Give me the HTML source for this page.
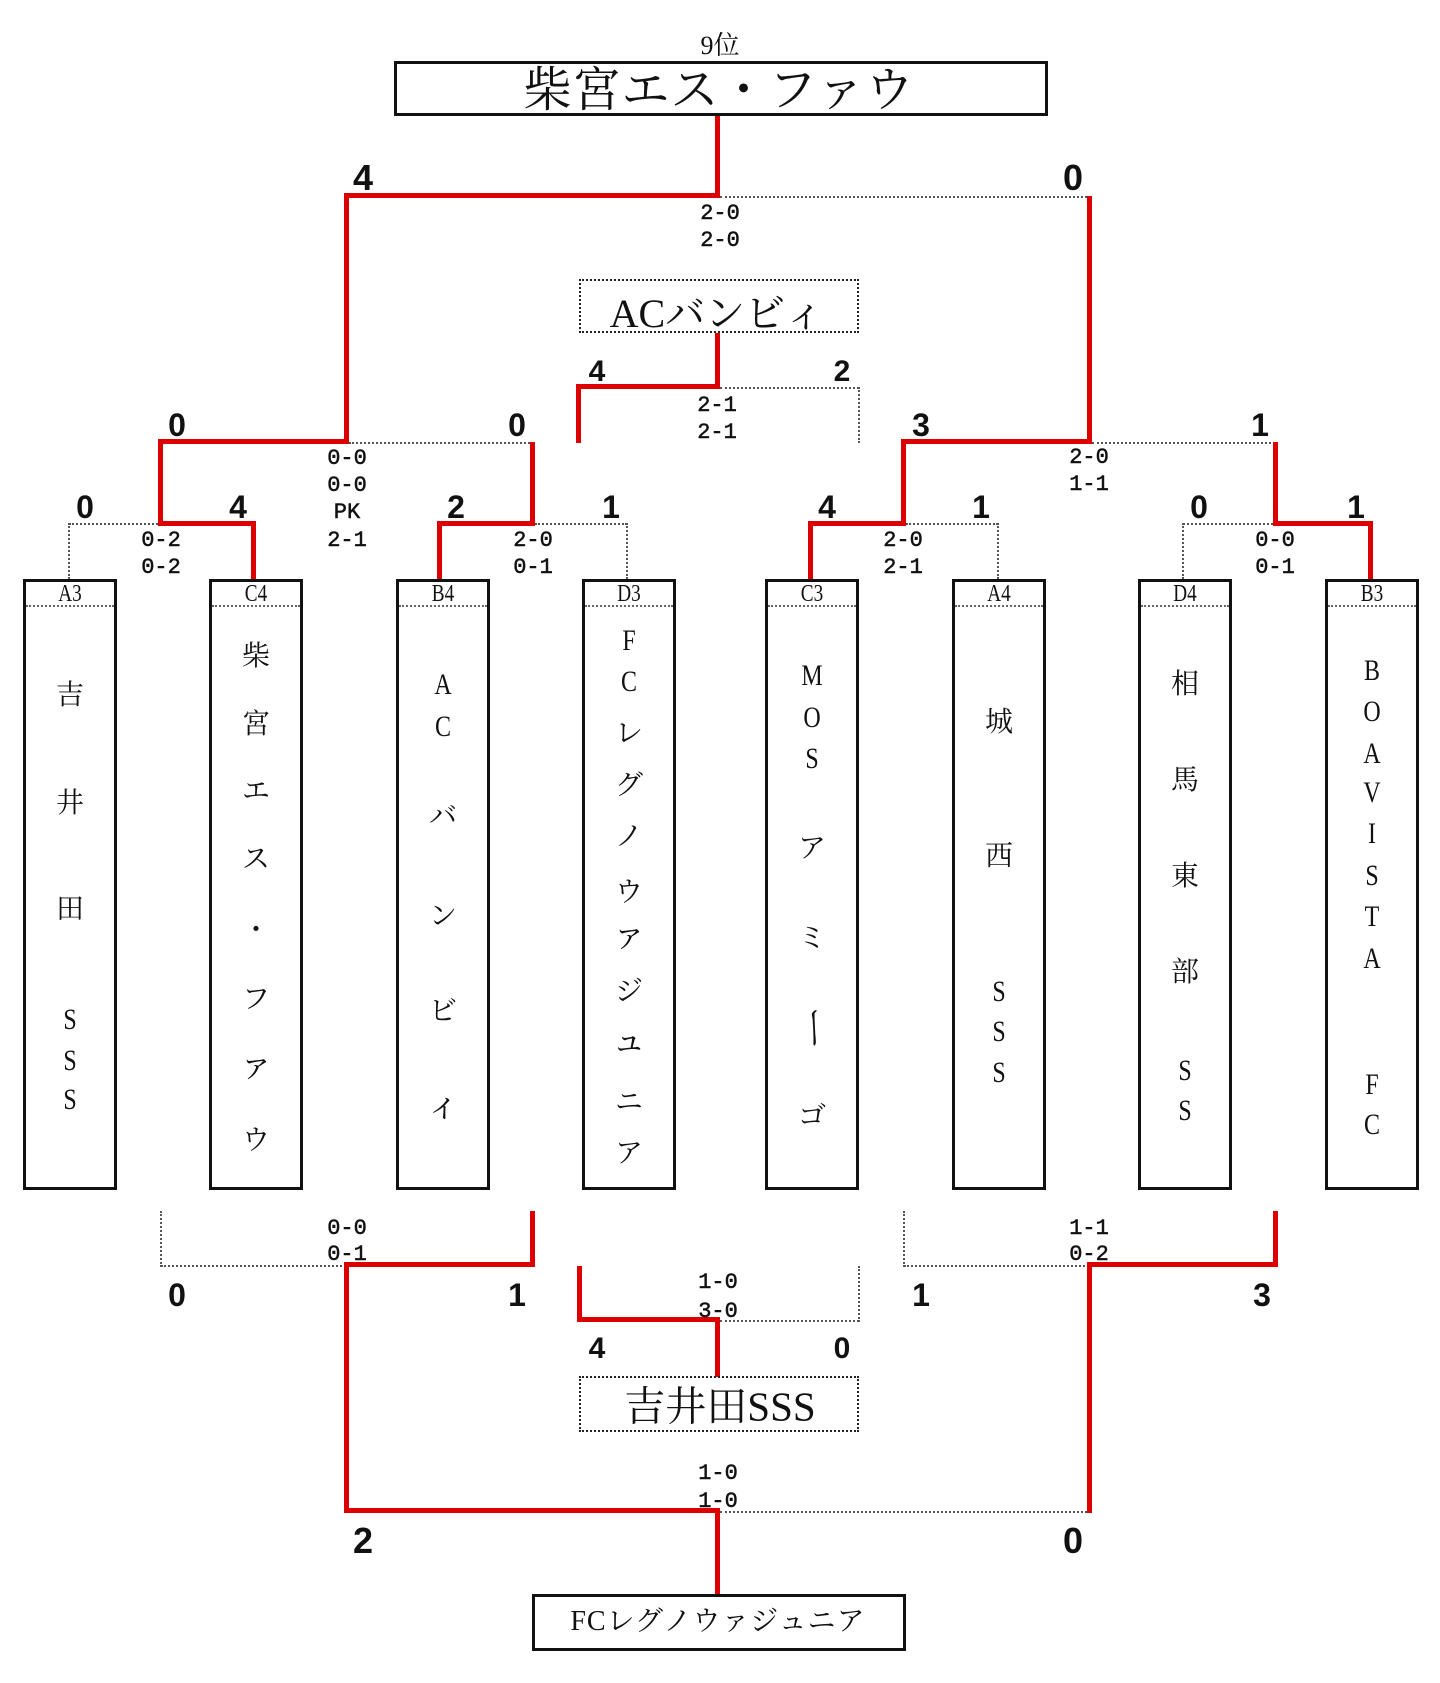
<!DOCTYPE html>
<html>
<head>
<meta charset="utf-8">
<style>
html,body{margin:0;padding:0;background:#fff;}
body{width:1440px;height:1683px;position:relative;overflow:hidden;}
.r{position:absolute;background:#dd0000;}
.dh{position:absolute;height:0;border-top:2px dotted #555;}
.dv{position:absolute;width:0;border-left:2px dotted #555;}
.c{position:absolute;transform:translate(-50%,-50%);line-height:1;white-space:nowrap;color:#111;}
.sc{font-family:"Liberation Sans",sans-serif;font-weight:bold;font-size:32px;}
.sc36{font-size:36px;}
.sc30{font-size:30px;}
.m{font-family:"Liberation Mono",monospace;font-size:22px;margin-top:1px;-webkit-text-stroke:0.5px #111;}
.sf{font-family:"Liberation Serif","Noto Serif CJK SC",serif;}
.box{position:absolute;top:579px;width:94px;height:611px;border:3px solid #111;box-sizing:border-box;}
.sep{position:absolute;top:605px;width:88px;height:0;border-top:2px dotted #666;}
.lab{font-family:"Liberation Serif","Noto Serif CJK SC",serif;font-size:24px;top:594px;transform:translate(-50%,-50%) scaleX(0.8);}
.k{font-family:"Liberation Serif","Noto Serif CJK SC",serif;font-size:28px;}
.l{font-family:"Liberation Serif","Noto Serif CJK SC",serif;font-size:30px;transform:translate(-50%,-50%) scaleX(0.8);}
.rot{transform:translate(-50%,-50%) rotate(90deg) scale(1.6,1.2);}
.bx{position:absolute;box-sizing:border-box;}
</style>
</head>
<body>

<!-- top winner box -->
<div class="c sf" style="left:720px;top:46px;font-size:26px;">9位</div>
<div class="bx" style="left:394px;top:61px;width:654px;height:55px;border:3px solid #111;"></div>
<div class="c sf" style="left:719px;top:91px;font-size:48px;letter-spacing:1px;">柴宮エス・ファウ</div>

<!-- top final lines -->
<div class="r" style="left:715px;top:116px;width:5px;height:82px;"></div>
<div class="r" style="left:344px;top:193px;width:376px;height:5px;"></div>
<div class="r" style="left:344px;top:193px;width:5px;height:251px;"></div>
<div class="dh" style="left:720px;top:196px;width:367px;"></div>
<div class="r" style="left:1087px;top:196px;width:5px;height:248px;"></div>

<div class="c sc sc36" style="left:363px;top:178px;">4</div>
<div class="c sc sc36" style="left:1073px;top:178px;">0</div>
<div class="c m" style="left:720px;top:213px;">2-0</div>
<div class="c m" style="left:720px;top:240px;">2-0</div>

<!-- ACバンビィ -->
<div class="bx" style="left:579px;top:279px;width:280px;height:54px;border:2px dotted #222;"></div>
<div class="c sf" style="left:717px;top:314px;font-size:40px;">ACバンビィ</div>
<div class="r" style="left:715px;top:333px;width:5px;height:56px;"></div>
<div class="r" style="left:576px;top:384px;width:144px;height:5px;"></div>
<div class="r" style="left:576px;top:384px;width:5px;height:59px;"></div>
<div class="dh" style="left:720px;top:387px;width:139px;"></div>
<div class="dv" style="left:858px;top:387px;height:56px;"></div>
<div class="c sc sc30" style="left:597px;top:372px;">4</div>
<div class="c sc sc30" style="left:842px;top:372px;">2</div>
<div class="c m" style="left:717px;top:405px;">2-1</div>
<div class="c m" style="left:717px;top:432px;">2-1</div>

<!-- R2 left -->
<div class="r" style="left:158px;top:439px;width:191px;height:5px;"></div>
<div class="r" style="left:158px;top:439px;width:5px;height:87px;"></div>
<div class="dh" style="left:349px;top:442px;width:184px;"></div>
<div class="r" style="left:530px;top:442px;width:5px;height:84px;"></div>
<div class="c sc" style="left:177px;top:425px;">0</div>
<div class="c sc" style="left:517px;top:425px;">0</div>
<div class="c m" style="left:347px;top:458px;">0-0</div>
<div class="c m" style="left:347px;top:485px;">0-0</div>
<div class="c m" style="left:347px;top:512px;">PK</div>
<div class="c m" style="left:347px;top:540px;">2-1</div>

<!-- R2 right -->
<div class="r" style="left:901px;top:439px;width:191px;height:5px;"></div>
<div class="r" style="left:901px;top:439px;width:5px;height:87px;"></div>
<div class="dh" style="left:1092px;top:442px;width:183px;"></div>
<div class="r" style="left:1273px;top:442px;width:5px;height:84px;"></div>
<div class="c sc" style="left:921px;top:425px;">3</div>
<div class="c sc" style="left:1260px;top:425px;">1</div>
<div class="c m" style="left:1089px;top:457px;">2-0</div>
<div class="c m" style="left:1089px;top:484px;">1-1</div>

<!-- R1 pair 1 -->
<div class="r" style="left:158px;top:521px;width:98px;height:5px;"></div>
<div class="r" style="left:251px;top:521px;width:5px;height:58px;"></div>
<div class="dh" style="left:69px;top:523px;width:89px;"></div>
<div class="dv" style="left:68px;top:523px;height:56px;"></div>
<div class="c sc" style="left:85px;top:507px;">0</div>
<div class="c sc" style="left:238px;top:507px;">4</div>
<div class="c m" style="left:161px;top:540px;">0-2</div>
<div class="c m" style="left:161px;top:567px;">0-2</div>

<!-- R1 pair 2 -->
<div class="r" style="left:437px;top:521px;width:98px;height:5px;"></div>
<div class="r" style="left:437px;top:521px;width:5px;height:58px;"></div>
<div class="dh" style="left:535px;top:523px;width:92px;"></div>
<div class="dv" style="left:626px;top:523px;height:56px;"></div>
<div class="c sc" style="left:456px;top:507px;">2</div>
<div class="c sc" style="left:611px;top:507px;">1</div>
<div class="c m" style="left:533px;top:540px;">2-0</div>
<div class="c m" style="left:533px;top:567px;">0-1</div>

<!-- R1 pair 3 -->
<div class="r" style="left:808px;top:521px;width:98px;height:5px;"></div>
<div class="r" style="left:808px;top:521px;width:5px;height:58px;"></div>
<div class="dh" style="left:906px;top:523px;width:92px;"></div>
<div class="dv" style="left:997px;top:523px;height:56px;"></div>
<div class="c sc" style="left:827px;top:507px;">4</div>
<div class="c sc" style="left:981px;top:507px;">1</div>
<div class="c m" style="left:903px;top:540px;">2-0</div>
<div class="c m" style="left:903px;top:567px;">2-1</div>

<!-- R1 pair 4 -->
<div class="dv" style="left:1182px;top:523px;height:56px;"></div>
<div class="dh" style="left:1183px;top:523px;width:90px;"></div>
<div class="r" style="left:1273px;top:521px;width:100px;height:5px;"></div>
<div class="r" style="left:1368px;top:521px;width:5px;height:58px;"></div>
<div class="c sc" style="left:1199px;top:507px;">0</div>
<div class="c sc" style="left:1356px;top:507px;">1</div>
<div class="c m" style="left:1275px;top:540px;">0-0</div>
<div class="c m" style="left:1275px;top:567px;">0-1</div>

<!-- team boxes -->
<div class="box" style="left:23px;"></div>
<div class="box" style="left:209px;"></div>
<div class="box" style="left:396px;"></div>
<div class="box" style="left:582px;"></div>
<div class="box" style="left:765px;"></div>
<div class="box" style="left:952px;"></div>
<div class="box" style="left:1138px;"></div>
<div class="box" style="left:1325px;"></div>
<div class="sep" style="left:26px;"></div>
<div class="sep" style="left:212px;"></div>
<div class="sep" style="left:399px;"></div>
<div class="sep" style="left:585px;"></div>
<div class="sep" style="left:768px;"></div>
<div class="sep" style="left:955px;"></div>
<div class="sep" style="left:1141px;"></div>
<div class="sep" style="left:1328px;"></div>
<div class="c lab" style="left:70px;">A3</div>
<div class="c lab" style="left:256px;">C4</div>
<div class="c lab" style="left:443px;">B4</div>
<div class="c lab" style="left:629px;">D3</div>
<div class="c lab" style="left:812px;">C3</div>
<div class="c lab" style="left:999px;">A4</div>
<div class="c lab" style="left:1185px;">D4</div>
<div class="c lab" style="left:1372px;">B3</div>

<!-- A3 吉井田SSS -->
<div class="c k" style="left:70px;top:696px;">吉</div>
<div class="c k" style="left:70px;top:804px;">井</div>
<div class="c k" style="left:70px;top:910px;">田</div>
<div class="c l" style="left:70px;top:1020px;">S</div>
<div class="c l" style="left:70px;top:1061px;">S</div>
<div class="c l" style="left:70px;top:1100px;">S</div>

<!-- C4 柴宮エス・ファウ -->
<div class="c k" style="left:256px;top:657px;">柴</div>
<div class="c k" style="left:256px;top:725px;">宮</div>
<div class="c k" style="left:256px;top:792px;">エ</div>
<div class="c k" style="left:256px;top:860px;">ス</div>
<div class="c k" style="left:256px;top:931px;">・</div>
<div class="c k" style="left:256px;top:1000px;">フ</div>
<div class="c k" style="left:256px;top:1067px;font-size:34px;">ァ</div>
<div class="c k" style="left:256px;top:1141px;">ウ</div>

<!-- B4 ACバンビィ -->
<div class="c l" style="left:443px;top:685px;">A</div>
<div class="c l" style="left:443px;top:727px;">C</div>
<div class="c k" style="left:443px;top:817px;">バ</div>
<div class="c k" style="left:443px;top:917px;">ン</div>
<div class="c k" style="left:443px;top:1012px;">ビ</div>
<div class="c k" style="left:443px;top:1107px;font-size:34px;">ィ</div>

<!-- D3 FCレグノウァジュニア -->
<div class="c l" style="left:629px;top:641px;">F</div>
<div class="c l" style="left:629px;top:682px;">C</div>
<div class="c k" style="left:629px;top:734px;">レ</div>
<div class="c k" style="left:629px;top:786px;">グ</div>
<div class="c k" style="left:629px;top:837px;">ノ</div>
<div class="c k" style="left:629px;top:893px;">ウ</div>
<div class="c k" style="left:629px;top:937px;font-size:34px;">ァ</div>
<div class="c k" style="left:629px;top:992px;">ジ</div>
<div class="c k" style="left:629px;top:1042px;font-size:34px;">ュ</div>
<div class="c k" style="left:629px;top:1103px;">ニ</div>
<div class="c k" style="left:629px;top:1154px;">ア</div>

<!-- C3 MOSアミーゴ -->
<div class="c l" style="left:812px;top:676px;">M</div>
<div class="c l" style="left:812px;top:718px;">O</div>
<div class="c l" style="left:812px;top:759px;">S</div>
<div class="c k" style="left:812px;top:849px;">ア</div>
<div class="c k" style="left:812px;top:939px;">ミ</div>
<div class="c k rot" style="left:812px;top:1028px;">ー</div>
<div class="c k" style="left:812px;top:1117px;">ゴ</div>

<!-- A4 城西SSS -->
<div class="c k" style="left:999px;top:723px;">城</div>
<div class="c k" style="left:999px;top:857px;">西</div>
<div class="c l" style="left:999px;top:992px;">S</div>
<div class="c l" style="left:999px;top:1032px;">S</div>
<div class="c l" style="left:999px;top:1073px;">S</div>

<!-- D4 相馬東部SS -->
<div class="c k" style="left:1185px;top:685px;">相</div>
<div class="c k" style="left:1185px;top:781px;">馬</div>
<div class="c k" style="left:1185px;top:877px;">東</div>
<div class="c k" style="left:1185px;top:973px;">部</div>
<div class="c l" style="left:1185px;top:1071px;">S</div>
<div class="c l" style="left:1185px;top:1111px;">S</div>

<!-- B3 BOAVISTA FC -->
<div class="c l" style="left:1372px;top:671px;">B</div>
<div class="c l" style="left:1372px;top:712px;">O</div>
<div class="c l" style="left:1372px;top:754px;">A</div>
<div class="c l" style="left:1372px;top:793px;">V</div>
<div class="c l" style="left:1372px;top:834px;">I</div>
<div class="c l" style="left:1372px;top:876px;">S</div>
<div class="c l" style="left:1372px;top:917px;">T</div>
<div class="c l" style="left:1372px;top:959px;">A</div>
<div class="c l" style="left:1372px;top:1085px;">F</div>
<div class="c l" style="left:1372px;top:1125px;">C</div>

<!-- bottom R2 left -->
<div class="dv" style="left:160px;top:1211px;height:56px;"></div>
<div class="dh" style="left:161px;top:1265px;width:185px;"></div>
<div class="r" style="left:344px;top:1262px;width:191px;height:5px;"></div>
<div class="r" style="left:530px;top:1211px;width:5px;height:56px;"></div>
<div class="c m" style="left:347px;top:1228px;">0-0</div>
<div class="c m" style="left:347px;top:1254px;">0-1</div>
<div class="c sc" style="left:177px;top:1295px;">0</div>
<div class="c sc" style="left:517px;top:1295px;">1</div>

<!-- bottom R2 right -->
<div class="dv" style="left:903px;top:1211px;height:56px;"></div>
<div class="dh" style="left:904px;top:1265px;width:185px;"></div>
<div class="r" style="left:1087px;top:1262px;width:191px;height:5px;"></div>
<div class="r" style="left:1273px;top:1211px;width:5px;height:56px;"></div>
<div class="c m" style="left:1089px;top:1228px;">1-1</div>
<div class="c m" style="left:1089px;top:1254px;">0-2</div>
<div class="c sc" style="left:921px;top:1295px;">1</div>
<div class="c sc" style="left:1262px;top:1295px;">3</div>

<!-- bottom final lines -->
<div class="r" style="left:344px;top:1262px;width:5px;height:251px;"></div>
<div class="r" style="left:344px;top:1508px;width:376px;height:5px;"></div>
<div class="r" style="left:715px;top:1508px;width:5px;height:87px;"></div>
<div class="dh" style="left:720px;top:1511px;width:367px;"></div>
<div class="r" style="left:1087px;top:1262px;width:5px;height:251px;"></div>
<div class="c m" style="left:718px;top:1473px;">1-0</div>
<div class="c m" style="left:718px;top:1501px;">1-0</div>
<div class="c sc sc36" style="left:363px;top:1541px;">2</div>
<div class="c sc sc36" style="left:1073px;top:1541px;">0</div>

<!-- bottom center (吉井田SSS) -->
<div class="r" style="left:577px;top:1266px;width:5px;height:56px;"></div>
<div class="r" style="left:577px;top:1317px;width:143px;height:5px;"></div>
<div class="r" style="left:715px;top:1317px;width:5px;height:60px;"></div>
<div class="dh" style="left:720px;top:1320px;width:139px;"></div>
<div class="dv" style="left:858px;top:1266px;height:56px;"></div>
<div class="c m" style="left:718px;top:1282px;">1-0</div>
<div class="c m" style="left:718px;top:1311px;">3-0</div>
<div class="c sc sc30" style="left:597px;top:1349px;">4</div>
<div class="c sc sc30" style="left:842px;top:1349px;">0</div>
<div class="bx" style="left:579px;top:1376px;width:280px;height:56px;border:2px dotted #222;"></div>
<div class="c sf" style="left:720px;top:1407px;font-size:41px;">吉井田SSS</div>

<!-- FC box -->
<div class="bx" style="left:532px;top:1594px;width:374px;height:57px;border:3px solid #111;"></div>
<div class="c sf" style="left:718px;top:1622px;font-size:28px;letter-spacing:1px;">FCレグノウァジュニア</div>

</body>
</html>
